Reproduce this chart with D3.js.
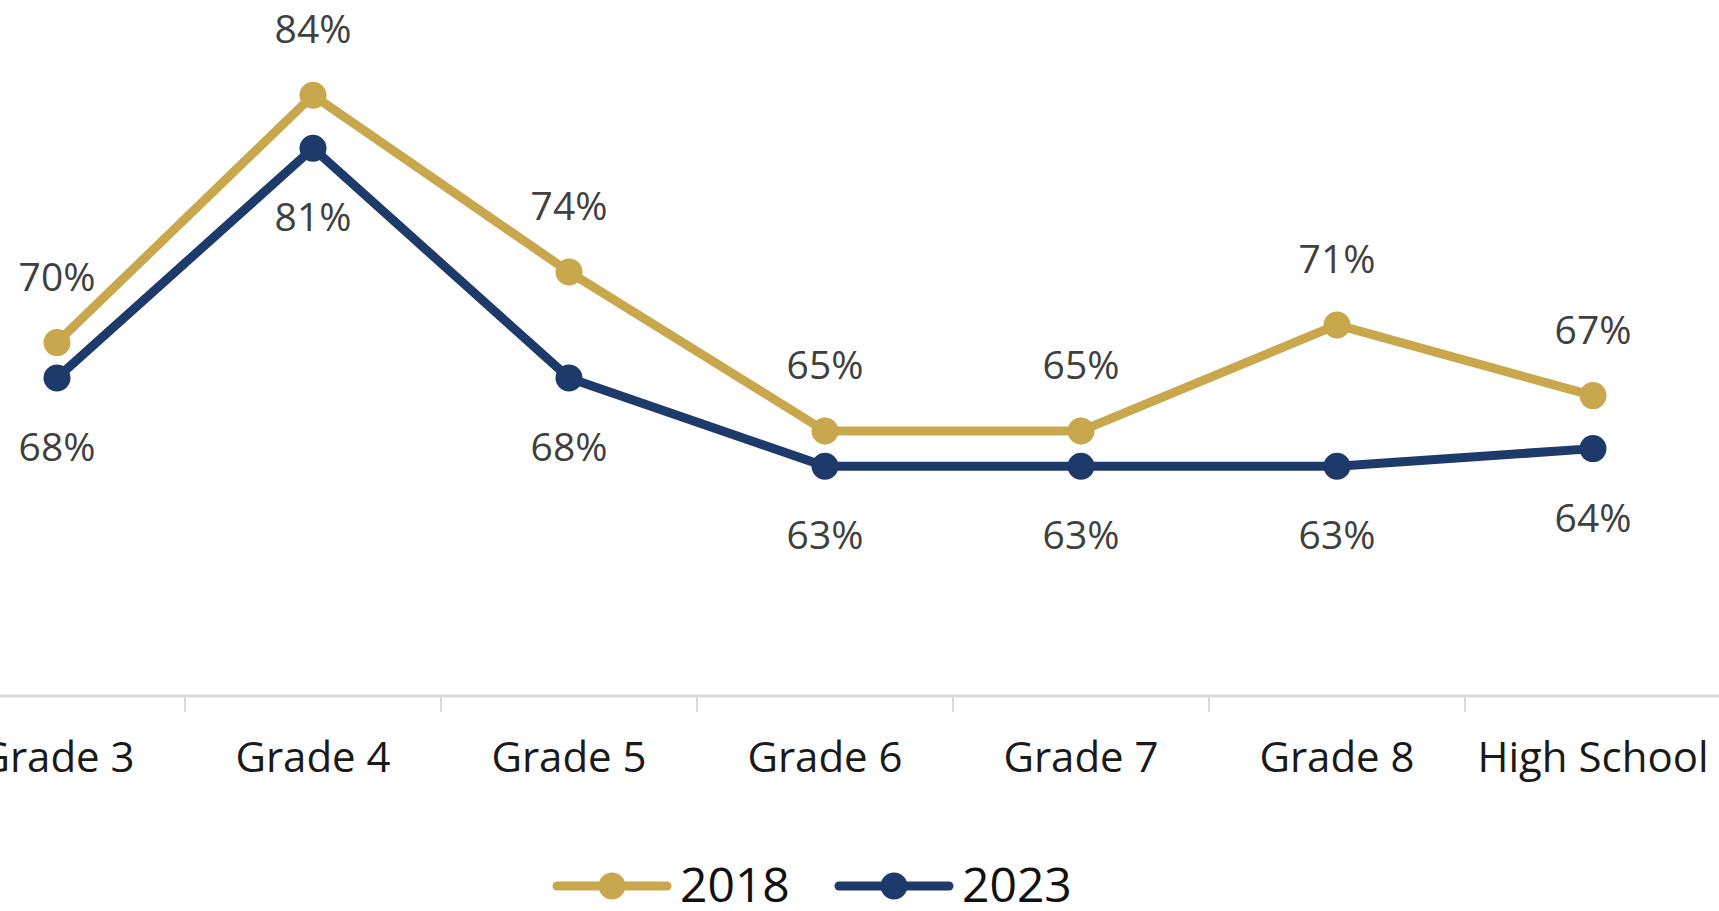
<!DOCTYPE html>
<html>
<head>
<meta charset="utf-8">
<script src="https://cdn.jsdelivr.net/npm/d3@7"></script>
<style>
  html, body { margin: 0; padding: 0; background: #fff; overflow: hidden; }
  #chart { width: 1719px; height: 911px; }
  text { font-family: "Open Sans", "Lato", sans-serif; }
</style>
</head>
<body>
<div id="chart"></div>
<script>
// data
var grades = ["Grade 3", "Grade 4", "Grade 5", "Grade 6", "Grade 7", "Grade 8", "High School"];
var values2018 = [70, 84, 74, 65, 65, 71, 67];
var values2023 = [68, 81, 68, 63, 63, 63, 64];
var seriesNames = ["2018", "2023"];
var seriesColors = ["#C9A74D", "#1D3A6A"];

var width = 1719, height = 911;
var axisY = 696;

var svg = d3.select("#chart")
  .append("svg")
    .attr("width", width)
    .attr("height", height);

var x_scale = d3.scaleBand()
    .domain(grades)
    .range([-71, 1721])
    .padding(0);

var y_scale = d3.scaleLinear()
    .domain([50, 90])
    .range([axisY, axisY - 40 * 17.67]);

function cx(g) { return x_scale(g) + x_scale.bandwidth() / 2; }

// category axis
svg.append("line")
    .attr("x1", 0).attr("x2", width)
    .attr("y1", axisY).attr("y2", axisY)
    .attr("stroke", "#D9D9D9")
    .attr("stroke-width", 3);

svg.selectAll(".tick-mark")
    .data(grades.slice(1))
    .enter()
    .append("line")
    .attr("class", "tick-mark")
    .attr("x1", function(d) { return x_scale(d); })
    .attr("x2", function(d) { return x_scale(d); })
    .attr("y1", axisY)
    .attr("y2", axisY + 16)
    .attr("stroke", "#D9D9D9")
    .attr("stroke-width", 2);

svg.selectAll(".cat-label")
    .data(grades)
    .enter()
    .append("text")
    .attr("class", "cat-label")
    .attr("x", cx)
    .attr("y", 772)
    .attr("text-anchor", "middle")
    .attr("font-size", "42px")
    .attr("fill", "#1a1a1a")
    .text(function(d) { return d; });

var line = d3.line()
    .x(function(d) { return cx(d.grade); })
    .y(function(d) { return y_scale(d.value); });

var series = [values2018, values2023].map(function(vals, i) {
  return {
    name: seriesNames[i],
    color: seriesColors[i],
    points: vals.map(function(v, j) { return {grade: grades[j], value: v}; })
  };
});

series.forEach(function(s, i) {
  svg.append("path")
      .datum(s.points)
      .attr("fill", "none")
      .attr("stroke", s.color)
      .attr("stroke-width", 9)
      .attr("stroke-linejoin", "round")
      .attr("d", line);

  svg.selectAll(".dot" + i)
      .data(s.points)
      .enter()
      .append("circle")
      .attr("cx", function(d) { return cx(d.grade); })
      .attr("cy", function(d) { return y_scale(d.value); })
      .attr("r", 13.5)
      .attr("fill", s.color);
});

// data labels: 2018 above, 2023 below
series.forEach(function(s, i) {
  svg.selectAll(".lbl" + i)
      .data(s.points)
      .enter()
      .append("text")
      .attr("x", function(d) { return cx(d.grade); })
      .attr("y", function(d) {
        var yc = i == 0 ? y_scale(d.value) - 66 : y_scale(d.value) + 69;
        return yc + 14;
      })
      .attr("text-anchor", "middle")
      .attr("font-size", "39px")
      .attr("fill", "#404040")
      .text(function(d) { return d.value + "%"; });
});

// legend
var legendX = [557, 839];
series.forEach(function(s, i) {
  var g = svg.append("g")
      .attr("transform", "translate(" + legendX[i] + ",886)");
  g.append("line")
      .attr("x1", 0).attr("x2", 110)
      .attr("y1", 0).attr("y2", 0)
      .attr("stroke", s.color)
      .attr("stroke-width", 9)
      .attr("stroke-linecap", "round");
  g.append("circle")
      .attr("cx", 55).attr("cy", 0)
      .attr("r", 13.5)
      .attr("fill", s.color);
  g.append("text")
      .attr("x", 123)
      .attr("y", 16)
      .attr("font-size", "48px")
      .attr("fill", "#111")
      .text(s.name);
});
</script>
</body>
</html>
